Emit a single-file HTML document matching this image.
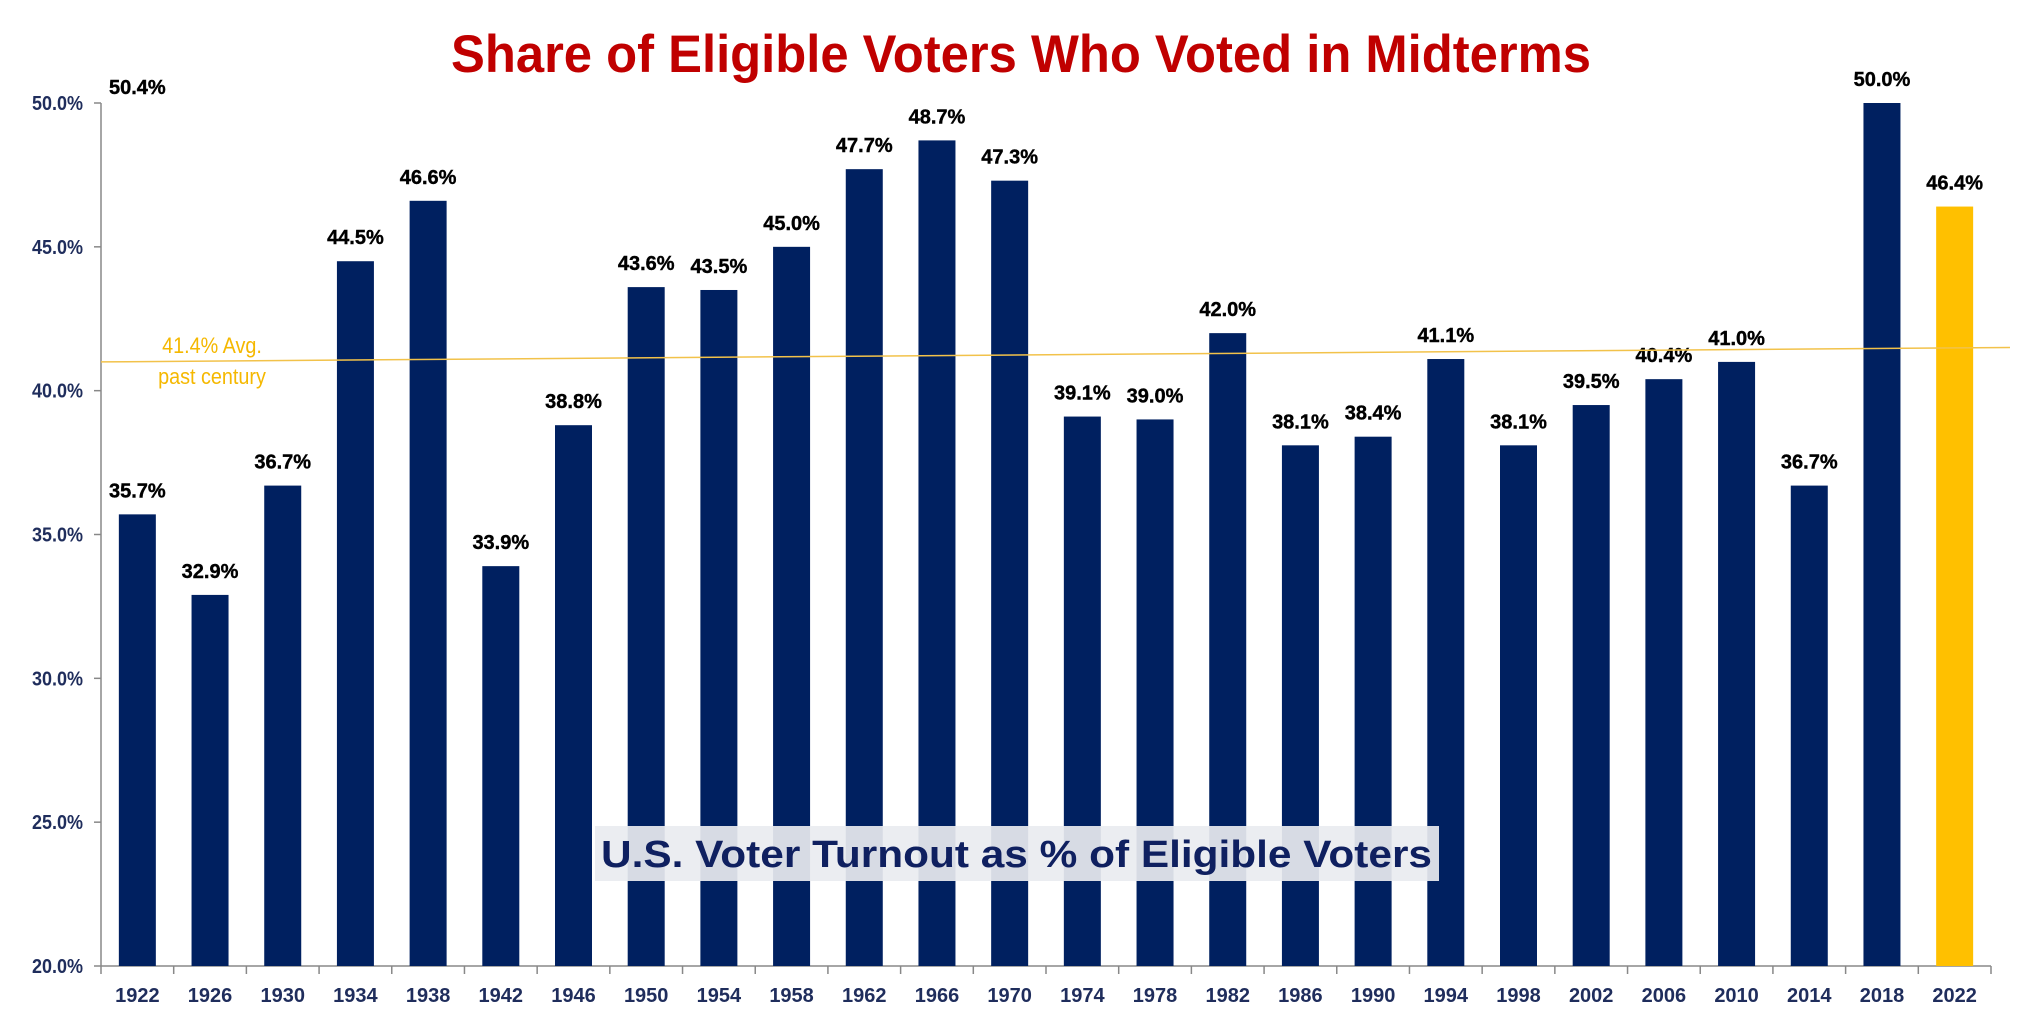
<!DOCTYPE html>
<html><head><meta charset="utf-8"><style>
html,body{margin:0;padding:0;background:#fff;}
svg{display:block;font-family:"Liberation Sans",Arial,sans-serif;}
</style></head><body>
<svg id="chart" width="2020" height="1020" viewBox="0 0 2020 1020">
<text x="451" y="72" font-size="53" font-weight="bold" fill="#c00000" textLength="1140" lengthAdjust="spacingAndGlyphs">Share of Eligible Voters Who Voted in Midterms</text>
<g id="plot"></g>
</svg>
<script>
const years = ["1922","1926","1930","1934","1938","1942","1946","1950","1954","1958","1962","1966","1970","1974","1978","1982","1986","1990","1994","1998","2002","2006","2010","2014","2018","2022"];
const turnout = [35.7,32.9,36.7,44.5,46.6,33.9,38.8,43.6,43.5,45.0,47.7,48.7,47.3,39.1,39.0,42.0,38.1,38.4,41.1,38.1,39.5,40.4,41.0,36.7,50.0,46.4];
const yTicks = [20,25,30,35,40,45,50];
const avgStart = 41.0;
const avgEnd = 41.5;

const NS="http://www.w3.org/2000/svg";
const g=document.getElementById('plot');
const x0=101, x1=1991, yTop=103, yBase=966;
const band=(x1-x0)/years.length;
const y=v=>yBase-(v-20)/30*(yBase-yTop);
const xc=i=>x0+band*(i+0.5);
function mk(tag,attrs,text){const e=document.createElementNS(NS,tag);for(const k in attrs)e.setAttribute(k,attrs[k]);if(text!=null)e.textContent=text;g.appendChild(e);return e;}

let ax=mk('line',{x1:x0,y1:yTop,x2:x0,y2:yBase,stroke:'#888','stroke-width':1.5});


let bx=mk('line',{x1:x0,y1:yBase,x2:x1,y2:yBase,stroke:'#888','stroke-width':1.5});



yTicks.forEach(t=>{
  const tk=mk('line',{x1:x0-7,y1:y(t),x2:x0,y2:y(t),stroke:'#888','stroke-width':1.5});
  
  
  const lb=mk('text',{x:83,y:y(t)+7,'text-anchor':'end','font-size':20,'font-weight':'bold',fill:'#1f2d5c',transform:`translate(83 0) scale(0.9 1) translate(-83 0)`},t.toFixed(1)+'%');
  
  
});

for(let i=0;i<=years.length;i++){
  const tk=mk('line',{x1:x0+band*i,y1:yBase,x2:x0+band*i,y2:yBase+8,stroke:'#888','stroke-width':1.5});
  
  
}

const bw=37;
turnout.forEach((v,i)=>{
  const last=i===turnout.length-1;
  const r=mk('rect',{x:xc(i)-bw/2,y:y(v),width:bw,height:yBase-y(v),fill:last?'#ffc000':'#002060'});
  
  
  const t=mk('text',{x:xc(i),y:y(v)-17,'text-anchor':'middle','font-size':20,'font-weight':'bold',fill:'#000',stroke:'#000','stroke-width':0.4},v.toFixed(1)+'%');
  
  
  const xl=mk('text',{x:xc(i),y:1002,'text-anchor':'middle','font-size':20,'font-weight':'bold',fill:'#1f2d5c'},years[i]);
  
  
});

const st=mk('text',{x:109,y:94,'font-size':20,'font-weight':'bold',fill:'#000',stroke:'#000','stroke-width':0.4},'50.4%');



const al=mk('line',{x1:x0,y1:y(avgStart),x2:2010,y2:y(avgEnd),stroke:'#f2c24a','stroke-width':1.5});


const a1=mk('text',{x:212,y:353,'text-anchor':'middle','font-size':22,fill:'#f5b800',transform:'translate(212 0) scale(0.9 1) translate(-212 0)'},'41.4% Avg.');


const a2=mk('text',{x:212,y:384,'text-anchor':'middle','font-size':22,fill:'#f5b800',transform:'translate(212 0) scale(0.9 1) translate(-212 0)'},'past century');



const sb=mk('rect',{x:595,y:826,width:844,height:55,fill:'#e9ebf0','fill-opacity':0.92});


const stx=mk('text',{x:601,y:867,'font-size':38,'font-weight':'bold',fill:'#0f2060',textLength:831,lengthAdjust:'spacingAndGlyphs'},'U.S. Voter Turnout as % of Eligible Voters');


</script>
</body></html>
